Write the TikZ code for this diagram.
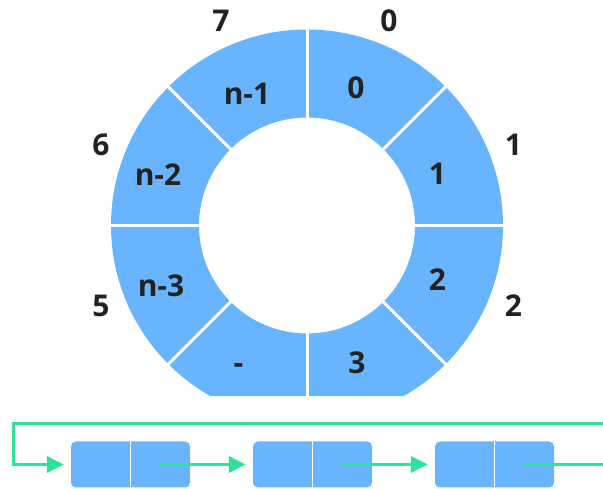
\documentclass[tikz,border=0pt]{standalone}
\usepackage{fontspec}
\setmainfont{Open Sans}
\usetikzlibrary{arrows.meta,calc}
\definecolor{ringblue}{HTML}{69B4FF}
\definecolor{linkgreen}{HTML}{2DE39B}
\definecolor{txtgray}{HTML}{222222}
\pgfdeclarelayer{bg}
\pgfsetlayers{bg,main}

\begin{document}
\begin{tikzpicture}[x=1pt,y=1pt,
        lbl/.style={anchor=base,text=txtgray,inner sep=0pt,
                font=\fontsize{30}{32}\selectfont\bfseries},
        cell/.style={fill=ringblue,rounded corners=5pt,inner sep=0pt,
                minimum width=119pt,minimum height=46pt},
        link/.style={linkgreen,line width=3.5pt,
                -{Triangle[length=17pt,width=16pt]}}]
        \useasboundingbox (0,0) rectangle (603,489);
        \coordinate (c) at (307,263.5);
        % ring slots
        \node (s0) [lbl] at (356,390) {0};
        \node (s1) [lbl] at (437.5,304.5) {1};
        \node (s2) [lbl] at (437.5,198.5) {2};
        \node (s3) [lbl] at (357,115) {3};
        \node (s4) [lbl] at (238.5,115) {-};
        \node (s5) [lbl] at (161,192.5) {n-3};
        \node (s6) [lbl] at (158,303.5) {n-2};
        \node (s7) [lbl] at (247,384.5) {n-1};
        % indices
        \node (i0) [lbl] at (389,457.5) {0};
        \node (i1) [lbl] at (513.5,333.5) {1};
        \node (i2) [lbl] at (513.5,172.5) {2};
        \node (i5) [lbl] at (101,172.5) {5};
        \node (i6) [lbl] at (101,333.5) {6};
        \node (i7) [lbl] at (221,457.5) {7};
        % list
        \node (b1) [cell] at (130.5,24.5) {};
        \node (b2) [cell] at (312.5,24.5) {};
        \node (b3) [cell] at (494.5,24.5) {};
        \coordinate (k) at (13.3,24.5);
        \coordinate (e1) at (603,24.5);
        \coordinate (e2) at (603,65.7);
        \foreach \b in {b1,b2,b3}
                \draw[white,line width=1.5pt] (\b.north) -- (\b.south);
        \draw[link,shorten >=7pt] (e2) -| (k) -- (b1.west);
        \draw[link,shorten >=7pt] ($(b1.center)!0.5!(b1.east)$) -- (b2.west);
        \draw[link,shorten >=7pt] ($(b2.center)!0.5!(b2.east)$) -- (b3.west);
        \draw[linkgreen,line width=3.5pt] ($(b3.center)!0.5!(b3.east)$) -- (e1);
        \begin{pgfonlayer}{bg}
                \begin{scope}
                        \clip (0,93) rectangle (603,489);
                        \fill[ringblue,even odd rule] (c) circle (196pt) (c) circle (108pt);
                        \foreach \a in {0,45,...,315}
                                \draw[white,line width=3pt] ($(c)+(\a:106pt)$) -- ($(c)+(\a:198pt)$);
                \end{scope}
        \end{pgfonlayer}
\end{tikzpicture}
\end{document}
